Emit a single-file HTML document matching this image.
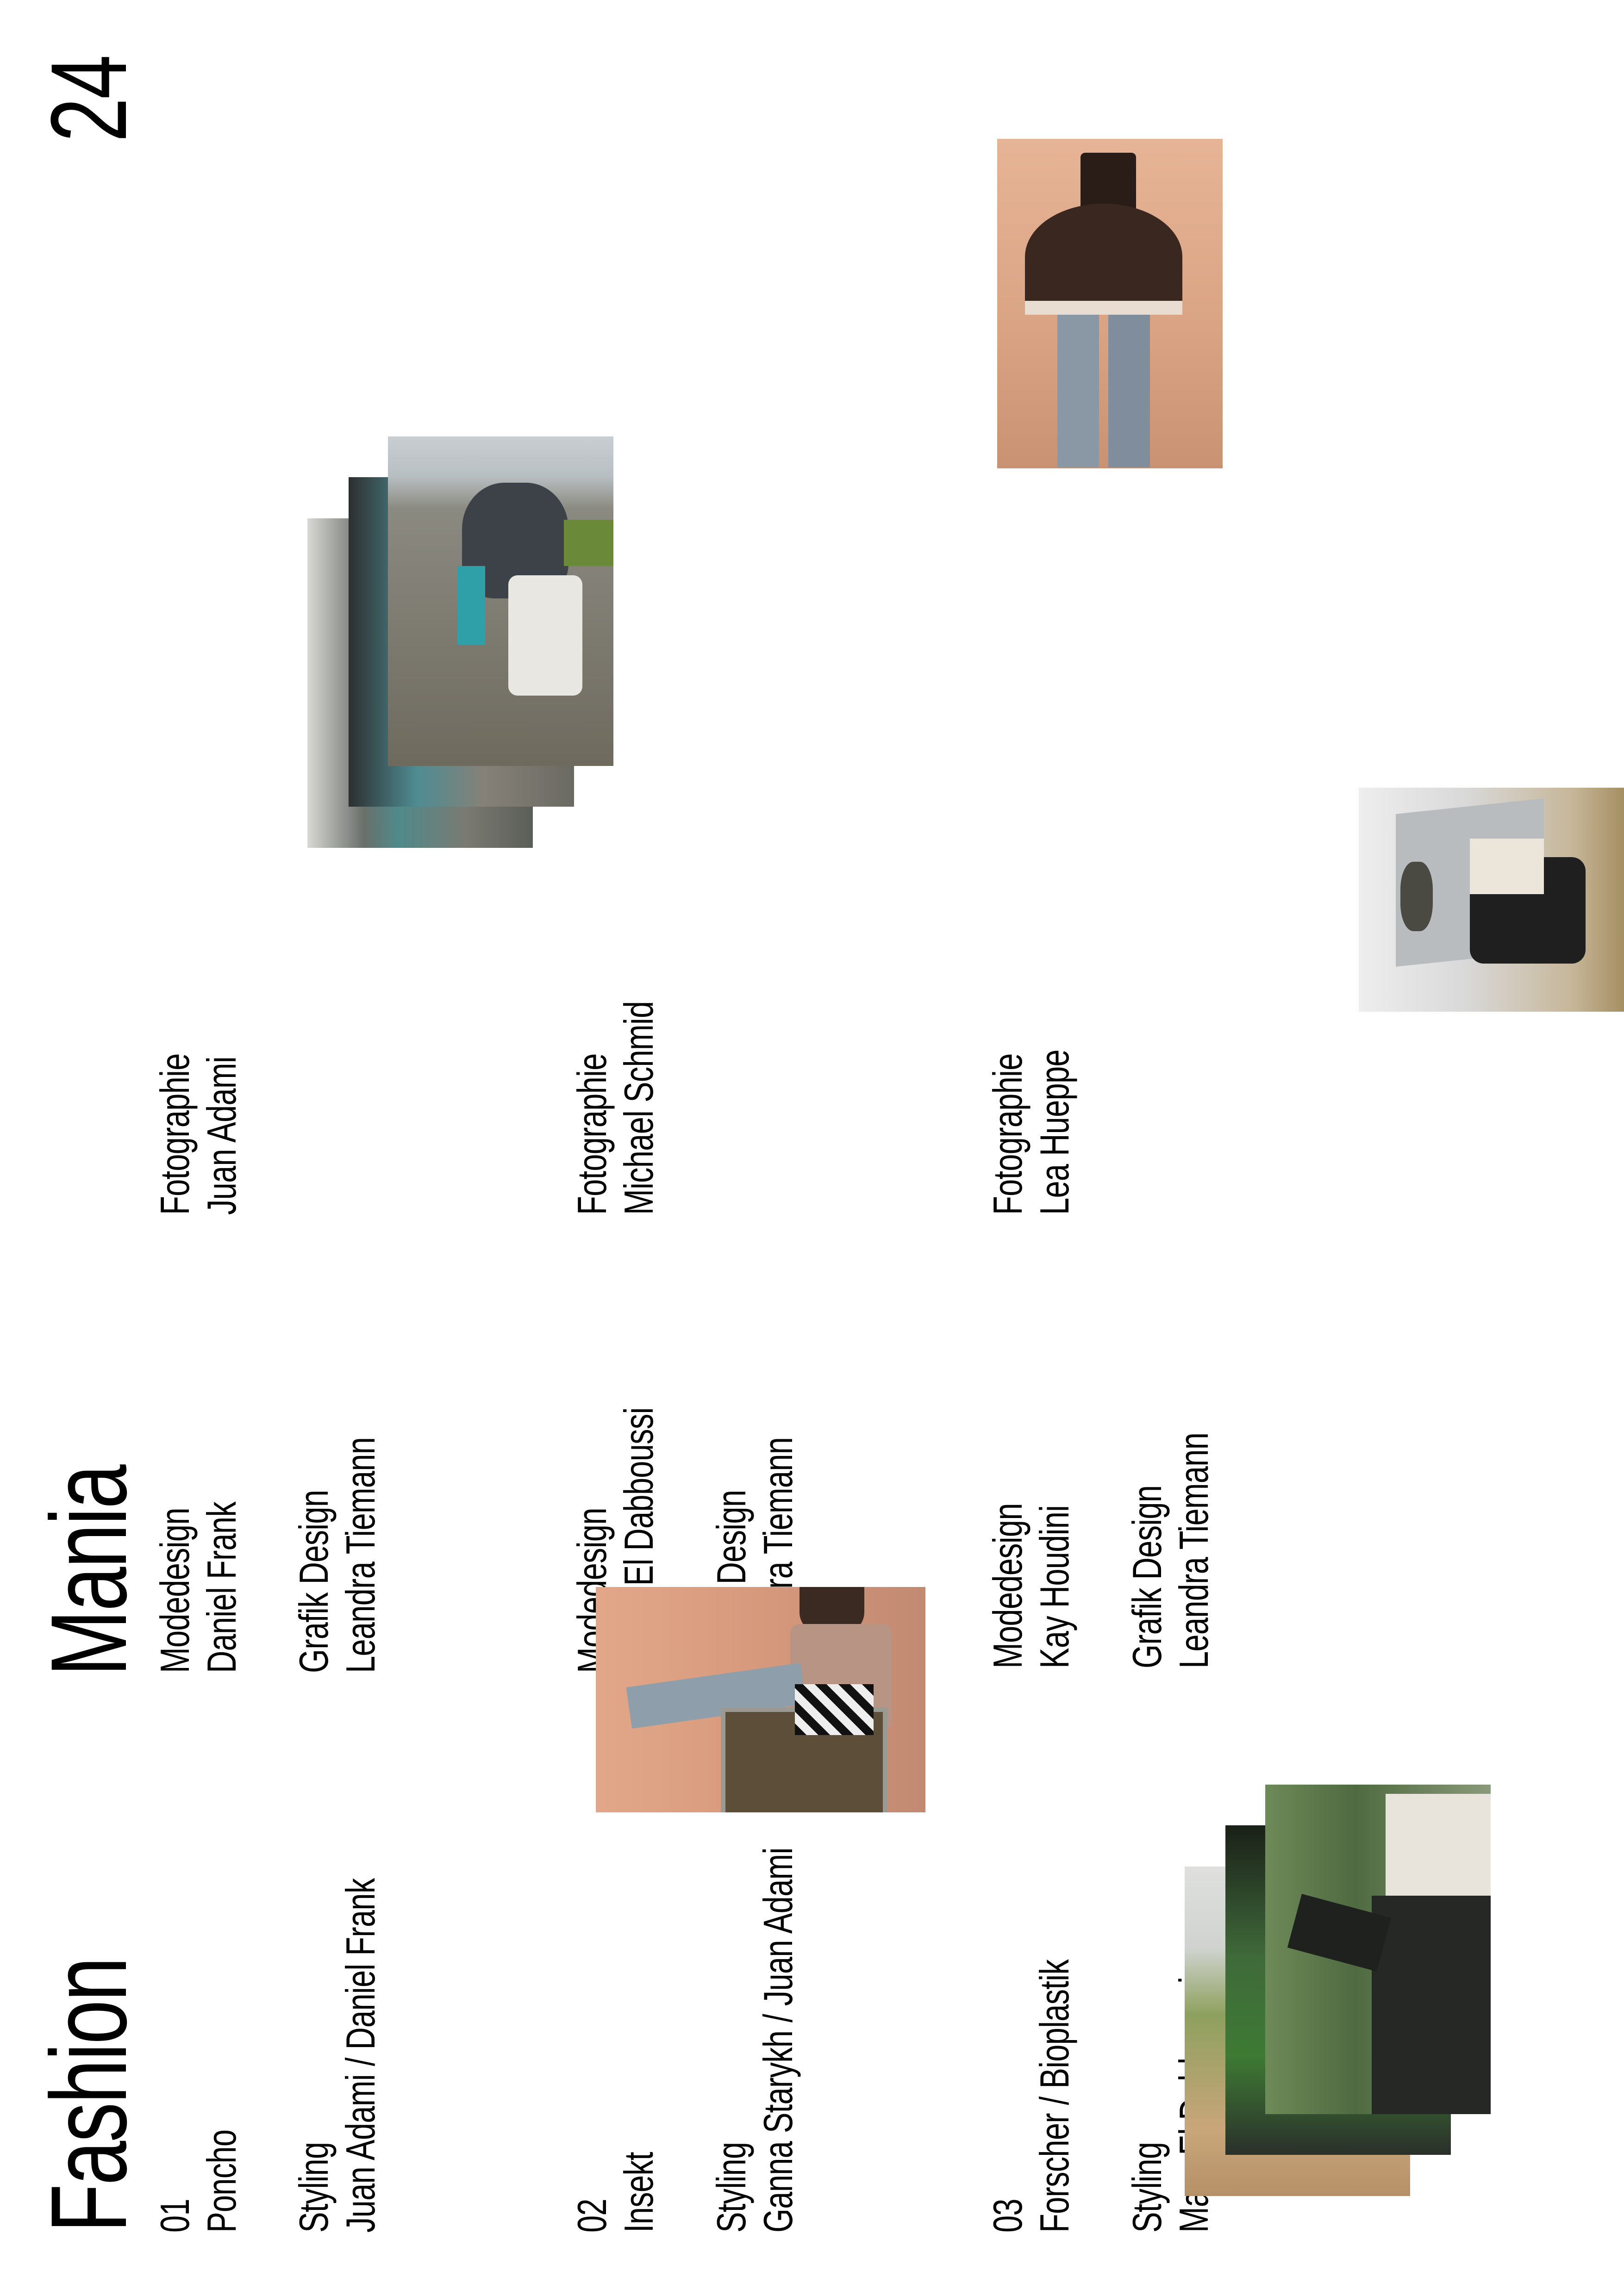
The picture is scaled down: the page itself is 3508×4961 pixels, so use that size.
<!DOCTYPE html>
<html><head><meta charset="utf-8">
<style>
html,body{margin:0;padding:0;background:#fff;}
#page{position:relative;width:3508px;height:4961px;overflow:hidden;background:#fff;font-family:"Liberation Sans",sans-serif;color:#000;}
.t{position:absolute;transform-origin:0 0;transform:rotate(-90deg) scaleX(0.76);white-space:nowrap;font-size:88px;line-height:101px;letter-spacing:-1px;}
.big{font-size:233px;line-height:233px;letter-spacing:-4px;transform:rotate(-90deg) scaleX(0.74);}
.ph{position:absolute;overflow:hidden;}
</style></head><body>
<div id="page">

<div class="t big" style="left:76px;top:307px">24</div>
<div class="t big" style="left:76px;top:4824px">Fashion</div>
<div class="t big" style="left:76px;top:3622px">Mania</div>

<div class="t" style="left:327px;top:4824px">01<br>Poncho</div>
<div class="t" style="left:327px;top:3615px">Modedesign<br>Daniel Frank</div>
<div class="t" style="left:327px;top:2625px">Fotographie<br>Juan Adami</div>
<div class="t" style="left:627px;top:4824px">Styling<br>Juan Adami / Daniel Frank</div>
<div class="t" style="left:627px;top:3615px">Grafik Design<br>Leandra Tiemann</div>

<div class="t" style="left:1228px;top:4824px">02<br>Insekt</div>
<div class="t" style="left:1228px;top:3615px">Modedesign<br>Karim El Dabboussi</div>
<div class="t" style="left:1228px;top:2625px">Fotographie<br>Michael Schmid</div>
<div class="t" style="left:1529px;top:4824px">Styling<br>Ganna Starykh / Juan Adami</div>
<div class="t" style="left:1529px;top:3615px">Grafik Design<br>Leandra Tiemann</div>

<div class="t" style="left:2126px;top:4824px">03<br>Forscher / Bioplastik</div>
<div class="t" style="left:2126px;top:3605px">Modedesign<br>Kay Houdini</div>
<div class="t" style="left:2126px;top:2625px">Fotographie<br>Lea Hueppe</div>
<div class="t" style="left:2427px;top:4824px">Styling<br>Mara El Dabboussi</div>
<div class="t" style="left:2427px;top:3605px">Grafik Design<br>Leandra Tiemann</div>

<div class="ph" style="left:2154px;top:300px;width:487px;height:712px;background:linear-gradient(180deg,#e6b496,#d9a383 60%,#c99273);">
  <div style="position:absolute;left:180px;top:30px;width:120px;height:120px;background:#2a1d18;border-radius:10px 10px 0 0"></div>
  <div style="position:absolute;left:60px;top:140px;width:340px;height:230px;background:#3a2720;border-radius:50% 50% 10px 10px"></div>
  <div style="position:absolute;left:60px;top:350px;width:340px;height:30px;background:#e8ddd0"></div>
  <div style="position:absolute;left:130px;top:380px;width:90px;height:330px;background:#8a98a6"></div>
  <div style="position:absolute;left:240px;top:380px;width:90px;height:330px;background:#7f8d9c"></div>
</div>

<div class="ph" style="left:664px;top:1120px;width:487px;height:712px;background:linear-gradient(90deg,#d8d8d4,#6a6f6a 25%,#4f8a8a 40%,#7a7a72 70%,#5b5e58);"></div>
<div class="ph" style="left:753px;top:1031px;width:487px;height:712px;background:linear-gradient(90deg,#2d2f30,#4e8c92 30%,#868178 60%,#6a6a62);"></div>
<div class="ph" style="left:838px;top:943px;width:487px;height:712px;background:linear-gradient(180deg,#c9ced3 0%,#b8bfc2 12%,#8b8a80 22%,#7d7a70 60%,#6e6a5e 100%);">
  <div style="position:absolute;left:160px;top:100px;width:230px;height:250px;background:#3c4248;border-radius:40% 40% 30% 30%"></div>
  <div style="position:absolute;left:150px;top:280px;width:60px;height:170px;background:#2fa0a8"></div>
  <div style="position:absolute;left:260px;top:300px;width:160px;height:260px;background:#e9e7e2;border-radius:20px"></div>
  <div style="position:absolute;left:380px;top:180px;width:107px;height:100px;background:#6a8a3a"></div>
</div>

<div class="ph" style="left:2935px;top:1702px;width:573px;height:484px;background:linear-gradient(90deg,#eeeeee,#d9d9d9 40%,#c7b79a 80%,#a58f62);">
  <div style="position:absolute;left:80px;top:40px;width:320px;height:330px;background:#b9bcbf;transform:skewY(-6deg)"></div>
  <div style="position:absolute;left:90px;top:160px;width:70px;height:150px;background:#4b4a42;border-radius:40%"></div>
  <div style="position:absolute;left:240px;top:150px;width:250px;height:230px;background:#1f1f1f;border-radius:30px"></div>
  <div style="position:absolute;left:240px;top:110px;width:160px;height:120px;background:#ece6da"></div>
</div>

<div class="ph" style="left:1287px;top:3429px;width:712px;height:487px;background:linear-gradient(90deg,#e2a788,#d4967a 60%,#c18a72);">
  <div style="position:absolute;left:440px;top:0;width:140px;height:110px;background:#3a2a22;border-radius:0 0 50% 50%"></div>
  <div style="position:absolute;left:420px;top:80px;width:220px;height:230px;background:#b89484;border-radius:20px"></div>
  <div style="position:absolute;left:70px;top:190px;width:380px;height:90px;background:#8f9eab;transform:rotate(-8deg)"></div>
  <div style="position:absolute;left:270px;top:260px;width:340px;height:220px;border:10px solid #9a9a92;background:#5d4e3a"></div>
  <div style="position:absolute;left:430px;top:210px;width:170px;height:110px;background:repeating-linear-gradient(45deg,#111 0 18px,#eee 18px 36px)"></div>
</div>

<div class="ph" style="left:2559px;top:4033px;width:487px;height:712px;background:linear-gradient(180deg,#dfe0de 0%,#cfd3cf 25%,#8ea05e 45%,#c9a67a 80%,#b59068);"></div>
<div class="ph" style="left:2647px;top:3944px;width:487px;height:712px;background:linear-gradient(180deg,#1a2018,#3f6a3a 40%,#3e7a34 70%,#2a2f2a);"></div>
<div class="ph" style="left:2733px;top:3856px;width:487px;height:712px;background:linear-gradient(90deg,#6e8a58,#4f6a40 40%,#8a9a7a);">
  <div style="position:absolute;left:260px;top:20px;width:227px;height:250px;background:#e8e4dc"></div>
  <div style="position:absolute;left:230px;top:240px;width:257px;height:472px;background:#262826"></div>
  <div style="position:absolute;left:60px;top:260px;width:200px;height:120px;background:#1f211f;transform:rotate(15deg)"></div>
</div>

</div>
</body></html>
